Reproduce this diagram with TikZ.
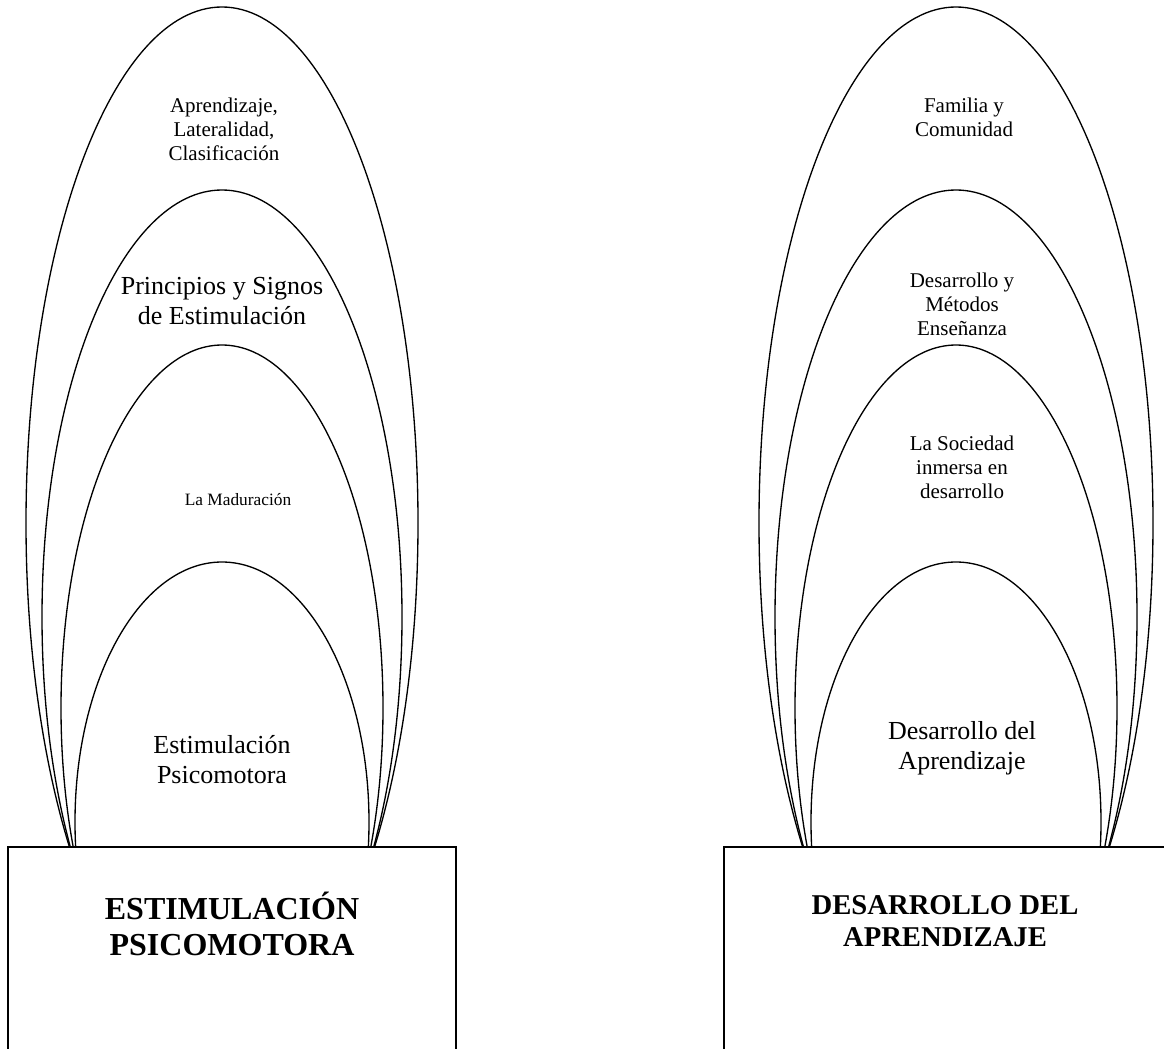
\documentclass[tikz,border=0pt]{standalone}
\usepackage{fontspec}
\setmainfont{Liberation Serif}

\begin{document}
\begin{tikzpicture}[x=0.75pt,y=-0.75pt]
\tikzstyle{every node}+=[inner sep=0pt,align=center]
\tikzstyle{arch}=[black,line width=1pt]
\tikzstyle{base}=[black,line width=1.1pt,fill=white]
\tikzstyle{tagtiny}=[font=\fontsize{13}{15.5}\selectfont]
\tikzstyle{tagsmall}=[font=\fontsize{15.75}{18}\selectfont]
\tikzstyle{taglarge}=[font=\fontsize{19.5}{22.5}\selectfont]
\clip (0,0) rectangle (1164,1049);
\fill [white] (0,0) rectangle (1164,1049);
% left group
\draw [arch] (222,523) ellipse [x radius=196,y radius=516];
\draw [arch] (222,617) ellipse [x radius=180,y radius=427];
\draw [arch] (222,708) ellipse [x radius=161,y radius=363];
\draw [arch] (222,822) ellipse [x radius=147,y radius=260];
\draw (224,129) node [tagsmall] (aprend) {Aprendizaje,\\Lateralidad,\\Clasificación};
\draw (222,301) node [taglarge] (princ) {Principios y Signos\\de Estimulación};
\draw (238,500) node [tagtiny] (madur) {La Maduración};
\draw (222,760) node [taglarge] (estim) {Estimulación\\Psicomotora};
\draw [base] (8,847) rectangle (456,1100);
\draw (232,924) node [font=\fontsize{24}{27}\selectfont\bfseries] (estTitle) {ESTIMULACIÓN\\PSICOMOTORA};
% right group
\draw [arch] (956,523) ellipse [x radius=197,y radius=516];
\draw [arch] (956,617) ellipse [x radius=181,y radius=427];
\draw [arch] (956,708) ellipse [x radius=161,y radius=363];
\draw [arch] (956,822) ellipse [x radius=145,y radius=260];
\draw (964,117) node [tagsmall] (famil) {Familia y\\Comunidad};
\draw (962,304) node [tagsmall] (metod) {Desarrollo y\\Métodos\\Enseñanza};
\draw (962,467) node [tagsmall] (socied) {La Sociedad\\inmersa en\\desarrollo};
\draw (962,748) node [taglarge] (desar) {Desarrollo del\\Aprendizaje};
\draw [base] (724,847) rectangle (1168,1100);
\draw (945,921) node [font=\fontsize{21.5}{24}\selectfont\bfseries] (desTitle) {DESARROLLO DEL\\APRENDIZAJE};
\end{tikzpicture}
\end{document}
